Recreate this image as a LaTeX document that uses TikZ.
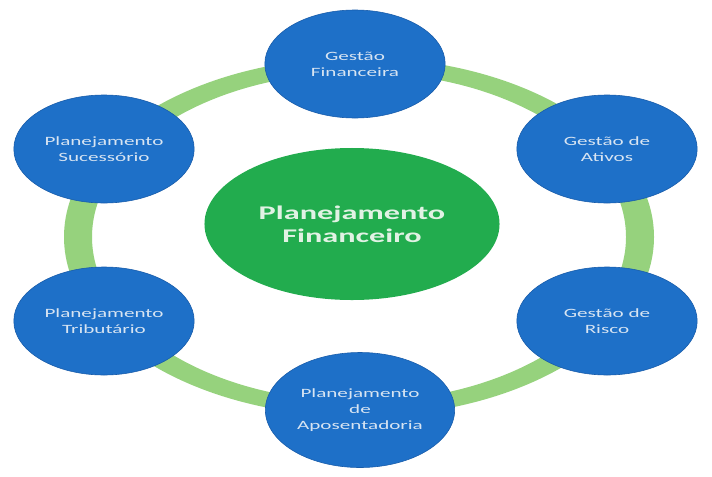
\documentclass[tikz,border=0pt]{standalone}
\usepackage{fontspec}
\setmainfont{Carlito}
\usetikzlibrary{shapes.geometric}

\definecolor{ringgreen}{RGB}{150,210,125}
\definecolor{areablue}{RGB}{30,112,200}
\definecolor{areaedge}{RGB}{24,92,170}
\definecolor{areatext}{RGB}{215,228,242}
\definecolor{coregreen}{RGB}{34,172,78}
\definecolor{coretext}{RGB}{225,242,228}

\begin{document}
\begin{tikzpicture}[x=0.03cm,y=-0.03cm]
\tikzstyle{every node}+=[inner sep=0pt,align=center]
\tikzstyle{area}=[ellipse,fill=areablue,draw=areaedge,line width=0.5pt,text=areatext,
  xscale=1.67,minimum width=3.24cm,minimum height=3.24cm,
  font=\fontsize{10.8}{13.5}\selectfont]
\tikzstyle{core}=[ellipse,fill=coregreen,text=coretext,xscale=1.67,
  minimum width=5.3cm,minimum height=4.56cm,
  font=\fontsize{16.5}{20}\selectfont\bfseries]
\useasboundingbox (0,0) rectangle (712,476);
\fill [white] (0,0) rectangle (712,476);
% ring behind the areas
\fill [ringgreen,even odd rule] (359,237) ellipse (295 and 179.5)
  (359,237) ellipse (267 and 164.5);
\node [core] (centro) at (352,224) {Planejamento\\Financeiro};
\node [area] (financeira) at (355,64) {Gestão\\Financeira};
\node [area] (ativos) at (607,149) {Gestão de\\Ativos};
\node [area] (risco) at (607,321) {Gestão de\\Risco};
\node [area,minimum width=3.4cm,minimum height=3.45cm] (aposent) at (360,410) {Planejamento\\de\\Aposentadoria};
\node [area] (tributario) at (104,321) {Planejamento\\Tributário};
\node [area] (sucessorio) at (104,149) {Planejamento\\Sucessório};
\end{tikzpicture}
\end{document}
